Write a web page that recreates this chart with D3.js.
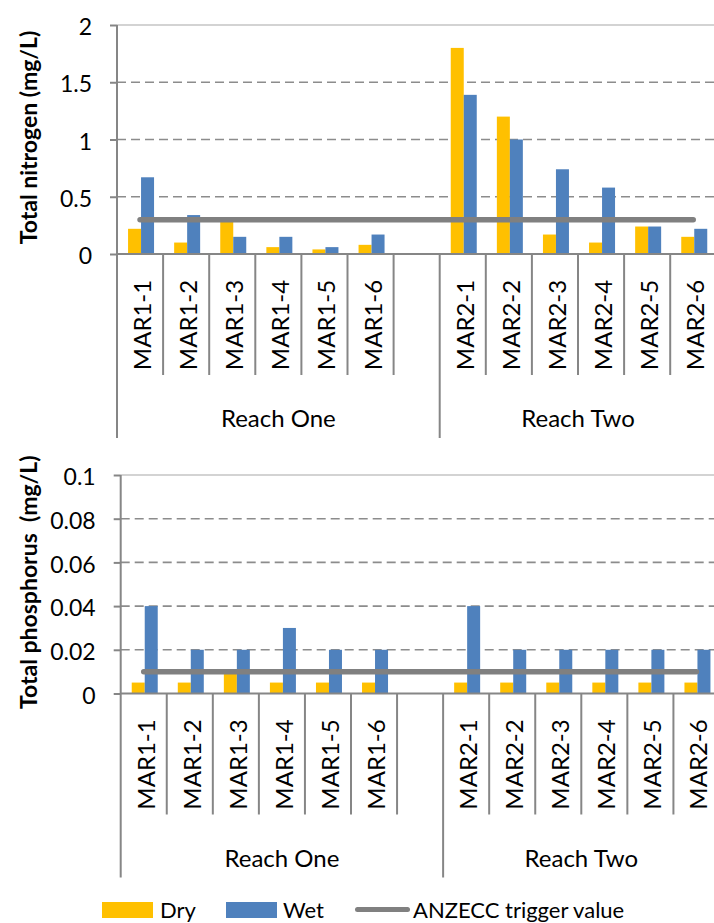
<!DOCTYPE html>
<html>
<head>
<meta charset="utf-8">
<script src="https://cdn.jsdelivr.net/npm/d3@7"></script>
<style>
  html, body { margin: 0; padding: 0; background: #fff; }
  svg { display: block; font-family: Lato, "Open Sans", sans-serif; }
</style>
</head>
<body>
<div id="chart"></div>
<script>
// Sampling sites, grouped by reach (Reach One carries an empty spacer slot)
const reachOneSites = ["MAR1-1", "MAR1-2", "MAR1-3", "MAR1-4", "MAR1-5", "MAR1-6"];
const reachTwoSites = ["MAR2-1", "MAR2-2", "MAR2-3", "MAR2-4", "MAR2-5", "MAR2-6"];
const reachNames = ["Reach One", "Reach Two"];
const seasons = ["Dry", "Wet"];

// Total nitrogen (mg/L)
const nitrogenDry = [0.22, 0.10, 0.28, 0.06, 0.04, 0.08, 1.80, 1.20, 0.17, 0.10, 0.24, 0.15];
const nitrogenWet = [0.67, 0.34, 0.15, 0.15, 0.06, 0.17, 1.39, 1.00, 0.74, 0.58, 0.24, 0.22];
const nitrogenTrigger = 0.3;
const nitrogenTicks = [0, 0.5, 1, 1.5, 2];
const nitrogenTickLabels = ["0", "0.5", "1", "1.5", "2"];

// Total phosphorus (mg/L)
const phosphorusDry = [0.005, 0.005, 0.009, 0.005, 0.005, 0.005, 0.005, 0.005, 0.005, 0.005, 0.005, 0.005];
const phosphorusWet = [0.04, 0.02, 0.02, 0.03, 0.02, 0.02, 0.04, 0.02, 0.02, 0.02, 0.02, 0.02];
const phosphorusTrigger = 0.01;
const phosphorusTicks = [0, 0.02, 0.04, 0.06, 0.08, 0.1];
const phosphorusTickLabels = ["0", "0.02", "0.04", "0.06", "0.08", "0.1"];

const W = 714, H = 923;
const COLORS = { Dry: "#FFC000", Wet: "#4F81BD" };
const AXIS = "#868686";
const GRID = "#8c8c8c";
const TRIGGER = "#808080";
const TICK_FONT = 23, LABEL_FONT = 24, TITLE_FONT = 23, LEGEND_FONT = 22;

const svg = d3.select("#chart").append("svg")
  .attr("width", W).attr("height", H);

const GAP = "__gap__";
const slots = [...reachOneSites, GAP, ...reachTwoSites];
const reachSpans = [
  { name: reachNames[0], from: 0, to: reachOneSites.length + 1 },
  { name: reachNames[1], from: reachOneSites.length + 1, to: slots.length }
];
const sites = [...reachOneSites, ...reachTwoSites];

function drawPanel(o) {
  const g = svg.append("g");
  const x = d3.scaleBand().domain(slots).range([o.left, o.left + slots.length * o.slot]).padding(0);
  const y = d3.scaleLinear().domain([0, o.ticks[o.ticks.length - 1]]).range([o.zero, o.top]);
  const inner = d3.scaleBand().domain(seasons).range([-12, 14]);

  // gridlines
  g.selectAll("line.grid").data(o.ticks.slice(1)).join("line")
    .attr("x1", o.left).attr("x2", W)
    .attr("y1", d => y(d)).attr("y2", d => y(d))
    .attr("stroke", (d, i, a) => i === a.length - 1 ? "#c4c4c4" : GRID)
    .attr("stroke-width", 1.6)
    .attr("stroke-dasharray", (d, i, a) => i === a.length - 1 ? null : "9,5");

  // bars
  const rows = sites.map((s, i) => ({ site: s, Dry: o.dry[i], Wet: o.wet[i] }));
  const groups = g.selectAll("g.site").data(rows).join("g")
    .attr("transform", d => `translate(${x(d.site) + x.bandwidth() / 2},0)`);
  groups.selectAll("rect").data(d => seasons.map(k => ({ k, v: d[k] }))).join("rect")
    .attr("x", d => inner(d.k))
    .attr("width", inner.bandwidth())
    .attr("y", d => y(d.v))
    .attr("height", d => y(0) - y(d.v))
    .attr("fill", d => COLORS[d.k]);

  // trigger value line
  g.append("line")
    .attr("x1", x(sites[0]) + x.bandwidth() / 2)
    .attr("x2", x(sites[sites.length - 1]) + x.bandwidth() / 2)
    .attr("y1", y(o.trigger)).attr("y2", y(o.trigger))
    .attr("stroke", TRIGGER).attr("stroke-width", 5.5).attr("stroke-linecap", "round");

  // y axis
  const yAxis = d3.axisLeft(y).tickValues(o.ticks).tickSize(7).tickPadding(18)
    .tickFormat((d, i) => o.tickLabels[i]);
  const ya = g.append("g").attr("transform", `translate(${o.left},0)`).call(yAxis);
  ya.select(".domain").remove();
  ya.selectAll(".tick line").attr("stroke", AXIS).attr("stroke-width", 2);
  ya.selectAll(".tick text").attr("font-size", TICK_FONT).attr("font-family", "Lato")
    .attr("fill", "#000").attr("dy", "0.42em");

  // x axis baseline
  g.append("line").attr("x1", o.left).attr("x2", W)
    .attr("y1", y(0)).attr("y2", y(0))
    .attr("stroke", AXIS).attr("stroke-width", 2);

  // category separators (short within a reach, long at reach boundaries)
  const boundaries = d3.range(0, slots.length + 1);
  const reachEdges = new Set(reachSpans.flatMap(r => [r.from, r.to]));
  g.selectAll("line.sep").data(boundaries).join("line")
    .attr("x1", k => o.left + k * o.slot).attr("x2", k => o.left + k * o.slot)
    .attr("y1", k => k === 0 ? o.top : y(0))
    .attr("y2", k => y(0) + (reachEdges.has(k) ? 184 : 121))
    .attr("stroke", AXIS).attr("stroke-width", 2);

  // rotated site labels
  g.selectAll("text.site").data(sites).join("text")
    .attr("transform", d => `translate(${x(d) + x.bandwidth() / 2 + 11},${y(0) + 71}) rotate(-90)`)
    .attr("text-anchor", "middle")
    .attr("font-size", LABEL_FONT).attr("fill", "#000")
    .text(d => d);

  // reach labels
  g.selectAll("text.reach").data(reachSpans).join("text")
    .attr("x", r => o.left + (r.from + r.to) / 2 * o.slot)
    .attr("y", y(0) + 173)
    .attr("text-anchor", "middle")
    .attr("font-size", LABEL_FONT).attr("fill", "#000")
    .text(r => r.name);

  // y axis title
  g.append("text")
    .attr("transform", `translate(37,${(o.top + o.zero) / 2 - 2}) rotate(-90)`)
    .attr("text-anchor", "middle")
    .attr("font-size", TITLE_FONT).attr("font-weight", "bold").attr("fill", "#000")
    .attr("xml:space", "preserve")
    .style("white-space", "pre")
    .text(o.title);
}

drawPanel({
  left: 117, slot: 46.1, top: 25, zero: 254,
  ticks: nitrogenTicks, tickLabels: nitrogenTickLabels,
  dry: nitrogenDry, wet: nitrogenWet, trigger: nitrogenTrigger,
  title: "Total nitrogen (mg/L)"
});

drawPanel({
  left: 120.7, slot: 46.06, top: 475, zero: 693.5,
  ticks: phosphorusTicks, tickLabels: phosphorusTickLabels,
  dry: phosphorusDry, wet: phosphorusWet, trigger: phosphorusTrigger,
  title: "Total phosphorus  (mg/L)"
});

// legend
const legend = svg.append("g").attr("font-size", LEGEND_FONT).attr("fill", "#000");
const legendItems = [
  { label: "Dry", kind: "rect", color: COLORS.Dry, x: 102, tx: 160 },
  { label: "Wet", kind: "rect", color: COLORS.Wet, x: 226, tx: 283 },
  { label: "ANZECC trigger value", kind: "line", color: TRIGGER, x: 355, tx: 413 }
];
legendItems.forEach(it => {
  if (it.kind === "rect") {
    legend.append("rect").attr("x", it.x).attr("y", 902).attr("width", 51).attr("height", 16)
      .attr("fill", it.color);
  } else {
    legend.append("line").attr("x1", it.x + 2.5).attr("x2", it.x + 52.5)
      .attr("y1", 909.5).attr("y2", 909.5)
      .attr("stroke", it.color).attr("stroke-width", 5).attr("stroke-linecap", "round");
  }
  legend.append("text").attr("x", it.tx).attr("y", 918).text(it.label);
});
</script>
</body>
</html>
